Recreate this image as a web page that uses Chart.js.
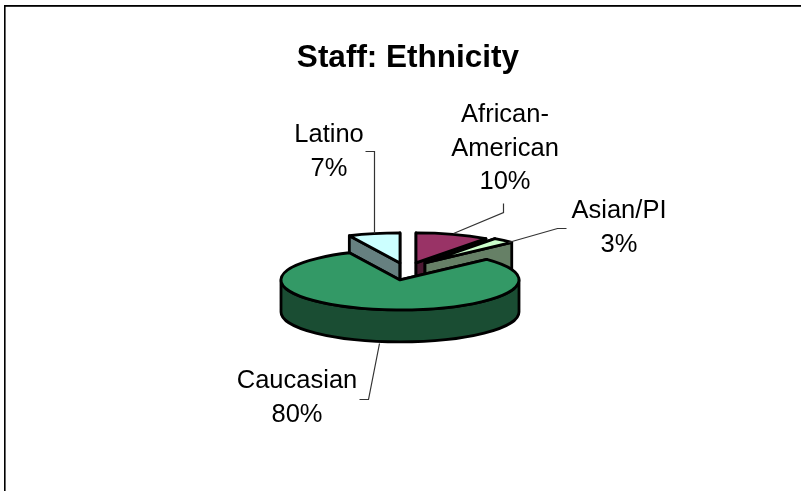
<!DOCTYPE html>
<html>
<head>
<meta charset="utf-8">
<style>html,body{margin:0;padding:0;background:#fff}canvas{display:block}</style>
<script src="https://cdn.jsdelivr.net/npm/chart.js@4/dist/chart.umd.min.js"></script>
</head>
<body>
<div style="width:801px;height:491px"><canvas id="c" width="801" height="491"></canvas></div>
<script>
// Staff ethnicity shares
const categories = ['African-American', 'Asian/PI', 'Caucasian', 'Latino'];
const shares = [10, 3, 80, 7];

// Slice colours: top face and side wall
const topColors = ['#993366', '#CCFFCC', '#339966', '#CCFFFF'];
const wallColors = ['#4D1933', '#668066', '#1A4D33', '#668080'];

// Where each slice sits relative to the chart area centre, in pixels
const sliceShift = [[8, -17], [17, -17], [-8, 0], [-8, -17]];

// Back-to-front painting order
const paintOrder = [3, 0, 1, 2];

// Text lines per label (centre x, first baseline) and leader lines
const labelLines = [['African-', 'American', '10%'], ['Asian/PI', '3%'], ['Caucasian', '80%'], ['Latino', '7%']];
const labelAnchors = [[505, 122], [619, 218], [297, 388], [329, 142]];
const leaders = [
  [[453, 233], [503, 212], [503, 203]],
  [[508, 242], [557, 228], [566, 228]],
  [[379, 343], [368, 399], [359, 399]],
  [[374, 233], [374, 151], [365, 151]]
];

const tilt = 30 / 119;   // vertical squash of the pie disc
const depth = 32;        // wall height
const lineStep = 33.5;   // distance between label rows

const pie3d = {
  id: 'pie3d',
  beforeDraw(chart) {
    const ctx = chart.ctx;
    ctx.save();
    ctx.fillStyle = '#fff';
    ctx.fillRect(0, 0, chart.width, chart.height);
    ctx.fillStyle = '#000';
    ctx.fillRect(4, 5, 1.6, 486);
    ctx.fillRect(4, 5, 797, 1.8);
    ctx.restore();
  },
  beforeDatasetDraw(chart) {
    const ctx = chart.ctx;
    const arcs = chart.getDatasetMeta(0).data;
    ctx.save();
    ctx.strokeStyle = '#000';
    ctx.lineWidth = 2.8;
    ctx.lineJoin = 'round';
    for (const i of paintOrder) {
      const a = arcs[i];
      const cx = a.x + sliceShift[i][0];
      const cy = a.y + sliceShift[i][1];
      const rx = a.outerRadius;
      const ry = rx * tilt;
      const s = a.startAngle;
      const e = a.endAngle;
      const px = t => cx + rx * Math.cos(t);
      const py = t => cy + ry * Math.sin(t);

      // Cut faces running from the centre to the rim
      ctx.fillStyle = wallColors[i];
      for (const t of [s, e]) {
        ctx.beginPath();
        ctx.moveTo(cx, cy);
        ctx.lineTo(px(t), py(t));
        ctx.lineTo(px(t), py(t) + depth);
        ctx.lineTo(cx, cy + depth);
        ctx.closePath();
        ctx.fill();
        ctx.stroke();
      }

      // Outer rim, front half of the ellipse only
      const from = Math.max(s, 0);
      const to = Math.min(e, Math.PI);
      if (to > from) {
        ctx.beginPath();
        ctx.ellipse(cx, cy, rx, ry, 0, from, to);
        ctx.ellipse(cx, cy + depth, rx, ry, 0, to, from, true);
        ctx.closePath();
        ctx.fill();
        ctx.stroke();
      }

      // Top face
      ctx.fillStyle = topColors[i];
      ctx.beginPath();
      ctx.moveTo(cx, cy);
      ctx.ellipse(cx, cy, rx, ry, 0, s, e);
      ctx.closePath();
      ctx.fill();
      ctx.stroke();
    }
    ctx.restore();
    return false;
  },
  afterDatasetsDraw(chart) {
    const ctx = chart.ctx;
    ctx.save();
    ctx.strokeStyle = '#333';
    ctx.lineWidth = 1.2;
    for (const line of leaders) {
      ctx.beginPath();
      line.forEach(([x, y], k) => k ? ctx.lineTo(x + 0.5, y + 0.5) : ctx.moveTo(x + 0.5, y + 0.5));
      ctx.stroke();
    }
    ctx.fillStyle = '#000';
    ctx.font = '25.5px "Liberation Sans", Arial, sans-serif';
    ctx.textAlign = 'center';
    ctx.textBaseline = 'alphabetic';
    labelLines.forEach((lines, i) => {
      const rows = lines.slice(0, -1).concat(shares[i] + '%');
      rows.forEach((row, k) => ctx.fillText(row, labelAnchors[i][0], labelAnchors[i][1] + k * lineStep));
    });
    ctx.restore();
  }
};

new Chart(document.getElementById('c'), {
  type: 'pie',
  data: {
    labels: categories,
    datasets: [{ data: shares, backgroundColor: topColors, borderWidth: 0 }]
  },
  plugins: [pie3d],
  options: {
    responsive: false,
    animation: false,
    rotation: 0,
    layout: { padding: { left: 289, right: 274, top: 0, bottom: 92 } },
    plugins: {
      legend: { display: false },
      tooltip: { enabled: false },
      title: {
        display: true,
        fullSize: false,
        text: 'Staff: Ethnicity',
        color: '#000',
        font: { family: '"Liberation Sans", Arial, sans-serif', size: 31.5, weight: 'bold', lineHeight: 1.2 },
        padding: { top: 39, bottom: 84 }
      }
    }
  }
});
</script>
</body>
</html>
